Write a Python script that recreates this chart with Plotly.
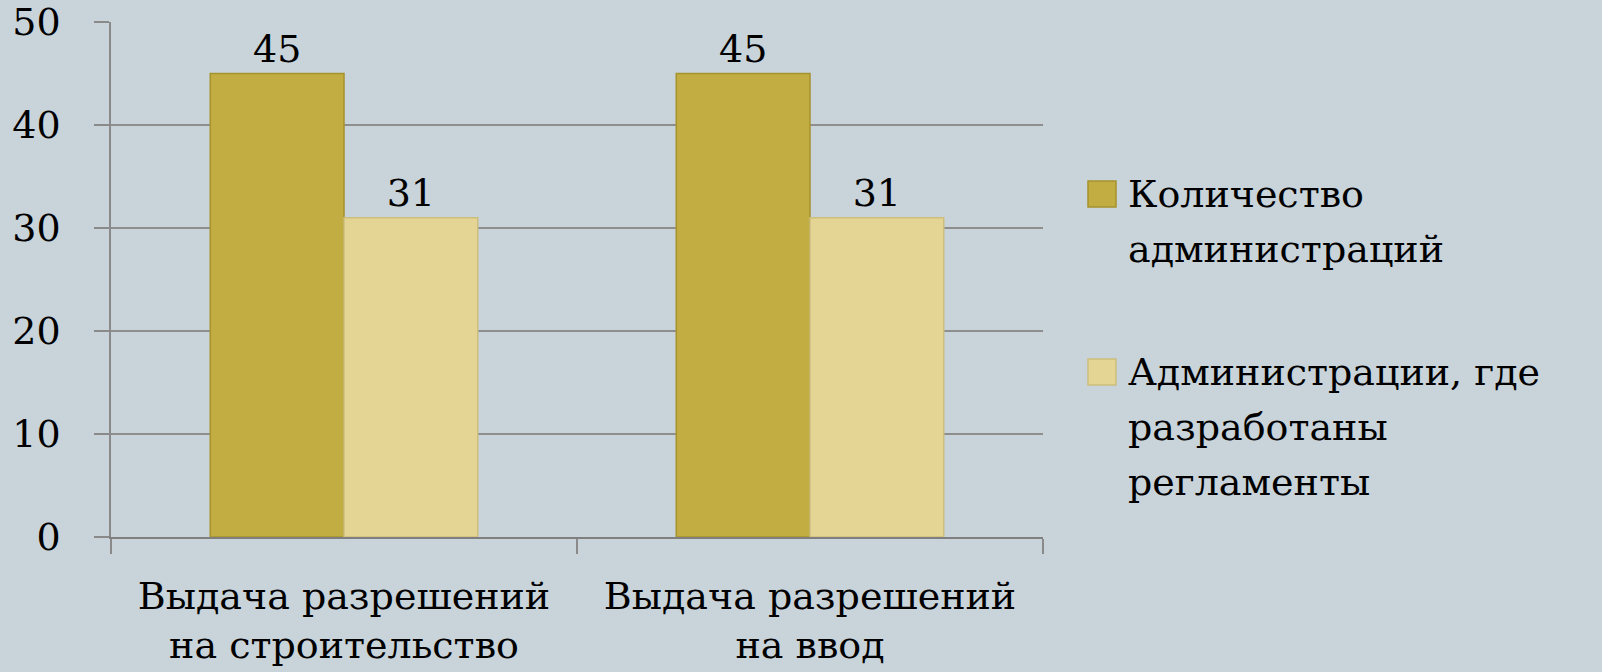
import plotly.graph_objects as go

categories = ["Выдача разрешений<br>на строительство", "Выдача разрешений<br>на ввод"]
series_names = ["Количество администраций", "Администрации, где разработаны регламенты"]
legend_lines = [["Количество", "администраций"], ["Администрации, где", "разработаны", "регламенты"]]
total_admins = [45, 45]
admins_with_regs = [31, 31]
y_ticks = [0, 10, 20, 30, 40, 50]

FONT = "DejaVu Serif"
FS = 38
BG = "#C8D3DA"
DARK = "#C2AD43"
DARK_LINE = "#A6932C"
LIGHT = "#E5D594"
LIGHT_LINE = "#CDBE7E"

W, H = 1602, 672
L, R, T, B = 111, 1043, 22, 537


def px_x(x):
    return (x - L) / (R - L)


def px_y(y):
    return (B - y) / (B - T)


fig = go.Figure()
fig.add_trace(go.Bar(
    x=categories, y=total_admins, name=series_names[0],
    marker=dict(color=DARK, line=dict(color=DARK_LINE, width=1.5)),
    text=[str(v) for v in total_admins], textposition="outside",
    textfont=dict(family=FONT, size=FS, color="black"), cliponaxis=False,
))
fig.add_trace(go.Bar(
    x=categories, y=admins_with_regs, name=series_names[1],
    marker=dict(color=LIGHT, line=dict(color=LIGHT_LINE, width=1.5)),
    text=[str(v) for v in admins_with_regs], textposition="outside",
    textfont=dict(family=FONT, size=FS, color="black"), cliponaxis=False,
))

fig.update_layout(
    width=W, height=H,
    paper_bgcolor=BG, plot_bgcolor=BG,
    margin=dict(l=L, r=W - R, t=T, b=H - B, pad=0, autoexpand=False),
    barmode="group", bargap=0.426, bargroupgap=0,
    showlegend=False,
    font=dict(family=FONT, size=FS, color="black"),
)
fig.update_yaxes(
    range=[0, 50], tickvals=y_ticks, showgrid=True, gridcolor="#8E8E8E", gridwidth=1.5,
    showline=True, linecolor="#8A8A8A", linewidth=1.5,
    ticks="outside", ticklen=15, tickcolor="#8A8A8A", tickwidth=1.5,
    ticklabelstandoff=26, zeroline=False, automargin=False,
    tickfont=dict(family=FONT, size=FS, color="black"),
)
fig.update_xaxes(
    showline=True, linecolor="#7F7F7F", linewidth=2,
    ticks="outside", ticklen=15, tickcolor="#8A8A8A", tickwidth=1.5,
    tickson="boundaries", ticklabelstandoff=24, automargin=False,
    tickfont=dict(family=FONT, size=FS, color="black"),
)

# manual legend (large swatches like the original)
swatches = [(DARK, DARK_LINE, 181), (LIGHT, LIGHT_LINE, 359)]
baselines = [[207, 262], [385, 440, 495]]
for (fill, line, top), lines, bls in zip(swatches, legend_lines, baselines):
    fig.add_shape(type="rect", xref="paper", yref="paper",
                  x0=px_x(1088), x1=px_x(1116), y0=px_y(top), y1=px_y(top + 26),
                  fillcolor=fill, line=dict(color=line, width=1.5))
    for txt, bl in zip(lines, bls):
        fig.add_annotation(x=px_x(1126), y=px_y(bl - 13), xref="paper", yref="paper",
                           text=txt, showarrow=False, xanchor="left", yanchor="middle",
                           font=dict(family=FONT, size=FS, color="black"))

fig.write_html("out.html")
